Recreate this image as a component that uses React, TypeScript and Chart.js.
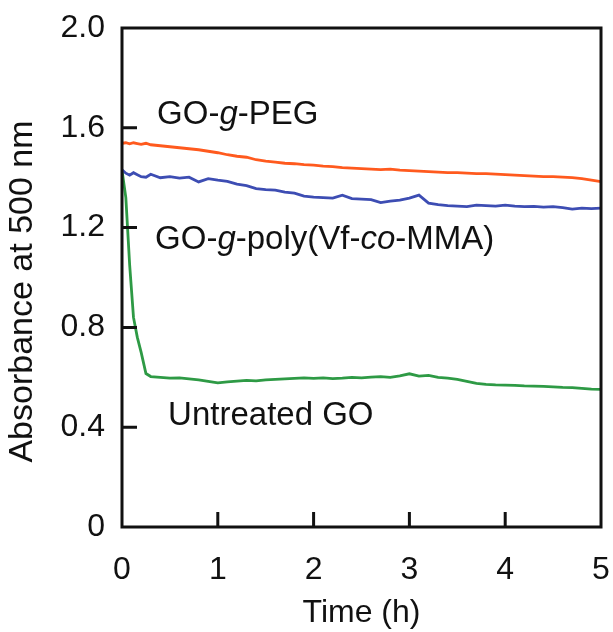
import React, { useEffect, useRef } from "react";
import { Chart, registerables } from "chart.js";

Chart.register(...registerables);

// Time (h)
const timeH = [
  0, 0.04, 0.08, 0.12, 0.16, 0.2, 0.25, 0.3, 0.4, 0.5, 0.6, 0.7, 0.8, 0.9,
  1.0, 1.1, 1.2, 1.3, 1.4, 1.5, 1.6, 1.7, 1.8, 1.9, 2.0, 2.1, 2.2, 2.3, 2.4,
  2.5, 2.6, 2.7, 2.8, 2.9, 3.0, 3.1, 3.2, 3.3, 3.4, 3.5, 3.6, 3.7, 3.8, 3.9,
  4.0, 4.1, 4.2, 4.3, 4.4, 4.5, 4.6, 4.7, 4.8, 4.9, 5.0,
];

// GO-g-PEG
const pegValues = [
  1.538, 1.54, 1.536, 1.54, 1.537, 1.534, 1.538, 1.532, 1.528, 1.524, 1.52,
  1.516, 1.512, 1.506, 1.5, 1.492, 1.486, 1.482, 1.472, 1.466, 1.462, 1.458,
  1.456, 1.452, 1.45, 1.446, 1.444, 1.44, 1.438, 1.436, 1.434, 1.432, 1.434,
  1.43, 1.428, 1.426, 1.424, 1.422, 1.42, 1.42, 1.418, 1.416, 1.416, 1.414,
  1.412, 1.41, 1.408, 1.406, 1.404, 1.404, 1.402, 1.4, 1.396, 1.39, 1.384,
];

// GO-g-poly(Vf-co-MMA)
const polyValues = [
  1.432, 1.418, 1.41, 1.42, 1.412, 1.404, 1.402, 1.414, 1.4, 1.404, 1.398,
  1.402, 1.383, 1.396, 1.39, 1.385, 1.374, 1.368, 1.356, 1.352, 1.35, 1.342,
  1.338, 1.326, 1.322, 1.32, 1.318, 1.33, 1.316, 1.314, 1.312, 1.3, 1.306,
  1.31, 1.318, 1.33, 1.298, 1.292, 1.288, 1.286, 1.284, 1.29, 1.288, 1.286,
  1.29, 1.286, 1.284, 1.285, 1.282, 1.284, 1.28, 1.274, 1.278, 1.276, 1.278,
];

// Untreated GO
const untreatedValues = [
  1.43, 1.32, 1.05, 0.84, 0.76, 0.7, 0.615, 0.603, 0.6, 0.597, 0.598, 0.594,
  0.59, 0.584, 0.578, 0.582, 0.585, 0.588, 0.586, 0.59, 0.592, 0.594, 0.596,
  0.598, 0.596, 0.598, 0.595, 0.597, 0.6, 0.598, 0.601, 0.603, 0.6, 0.606,
  0.614, 0.605, 0.608, 0.6, 0.597, 0.592, 0.584, 0.576, 0.572, 0.57, 0.569,
  0.568, 0.566, 0.565, 0.564, 0.562, 0.56, 0.559, 0.556, 0.553, 0.552,
];

const xTickValues = [0, 1, 2, 3, 4, 5];
const yTickValues = [0, 0.4, 0.8, 1.2, 1.6, 2.0];

const FONT = '"Liberation Sans", Arial, Helvetica, sans-serif';
const INK = "#111111";

type Part = { t: string; i?: boolean };

const labelPeg: Part[] = [{ t: "GO-" }, { t: "g", i: true }, { t: "-PEG" }];
const labelPoly: Part[] = [
  { t: "GO-" },
  { t: "g", i: true },
  { t: "-poly(Vf-" },
  { t: "co", i: true },
  { t: "-MMA)" },
];
const labelUntreated: Part[] = [{ t: "Untreated GO" }];

function drawRich(ctx: CanvasRenderingContext2D, parts: Part[], x: number, y: number, size: number) {
  let cx = x;
  for (const p of parts) {
    ctx.font = `${p.i ? "italic " : ""}${size}px ${FONT}`;
    ctx.fillText(p.t, cx, y);
    cx += ctx.measureText(p.t).width;
  }
}

const framePlugin = {
  id: "frame",
  afterDraw(chart: any) {
    const { ctx, chartArea: a, scales } = chart;
    const xs = scales.x;
    const ys = scales.y;
    ctx.save();
    ctx.strokeStyle = INK;
    ctx.lineWidth = 3;
    ctx.strokeRect(a.left, a.top, a.right - a.left, a.bottom - a.top);
    // inward ticks
    ctx.beginPath();
    for (const v of yTickValues.slice(1, -1)) {
      const py = ys.getPixelForValue(v);
      ctx.moveTo(a.left, py);
      ctx.lineTo(a.left + 15, py);
    }
    for (const v of xTickValues.slice(1, -1)) {
      const px = xs.getPixelForValue(v);
      ctx.moveTo(px, a.bottom);
      ctx.lineTo(px, a.bottom - 15);
    }
    ctx.stroke();

    // annotations
    ctx.fillStyle = INK;
    ctx.textBaseline = "alphabetic";
    ctx.textAlign = "left";
    drawRich(ctx, labelPeg, xs.getPixelForValue(0.366), ys.getPixelForValue(1.615), 33);
    drawRich(ctx, labelPoly, xs.getPixelForValue(0.345), ys.getPixelForValue(1.114), 33);
    drawRich(ctx, labelUntreated, xs.getPixelForValue(0.481), ys.getPixelForValue(0.409), 33);

    // y-axis title
    ctx.save();
    ctx.translate(23, (a.top + a.bottom) / 2 + 14);
    ctx.rotate(-Math.PI / 2);
    ctx.textAlign = "center";
    ctx.textBaseline = "middle";
    ctx.font = `34px ${FONT}`;
    ctx.fillText("Absorbance at 500 nm", 0, 0);
    ctx.restore();

    // x-axis title
    ctx.textAlign = "center";
    ctx.textBaseline = "alphabetic";
    ctx.font = `32px ${FONT}`;
    ctx.fillText("Time (h)", (a.left + a.right) / 2, 622);
    ctx.restore();
  },
};

export default function App() {
  const ref = useRef<HTMLCanvasElement | null>(null);
  useEffect(() => {
    if (!ref.current) return;
    const mk = (vals: number[]) => timeH.map((t, i) => ({ x: t, y: vals[i] }));
    const ds = (label: string, vals: number[], color: string) => ({
      label,
      data: mk(vals),
      borderColor: color,
      backgroundColor: color,
      borderWidth: 2.8,
      pointRadius: 0,
      tension: 0,
      fill: false,
    });
    const chart = new Chart(ref.current, {
      type: "line",
      data: {
        datasets: [
          ds("GO-g-PEG", pegValues, "#FF5A1E"),
          ds("GO-g-poly(Vf-co-MMA)", polyValues, "#3D4DB3"),
          ds("Untreated GO", untreatedValues, "#2E9A45"),
        ],
      },
      options: {
        animation: false,
        responsive: false,
        maintainAspectRatio: false,
        layout: { padding: { top: 28, right: 12, left: 0, bottom: 0 } },
        plugins: { legend: { display: false }, tooltip: { enabled: false } },
        scales: {
          x: {
            type: "linear",
            min: 0,
            max: 5,
            grid: { display: false, drawTicks: false },
            border: { display: false },
            afterBuildTicks: (s: any) => {
              s.ticks = xTickValues.map((v) => ({ value: v }));
            },
            afterFit: (s: any) => {
              s.height = 105;
              s.paddingLeft = 0;
              s.paddingRight = 0;
            },
            ticks: {
              padding: 24,
              color: INK,
              font: { family: FONT, size: 32 },
              callback: (v: any) => String(v),
              maxRotation: 0,
            },
          },
          y: {
            type: "linear",
            min: 0,
            max: 2,
            grid: { display: false, drawTicks: false },
            border: { display: false },
            afterBuildTicks: (s: any) => {
              s.ticks = yTickValues.map((v) => ({ value: v }));
            },
            afterFit: (s: any) => {
              s.width = 122;
              s.paddingTop = 0;
              s.paddingBottom = 0;
            },
            ticks: {
              padding: 17,
              color: INK,
              font: { family: FONT, size: 32 },
              callback: (v: any) => (Number(v) === 0 ? "0" : Number(v).toFixed(1)),
            },
          },
        },
      },
      plugins: [framePlugin],
    } as any);
    return () => chart.destroy();
  }, []);
  return (
    <div style={{ position: "absolute", left: 0, top: 0, width: 613, height: 632, background: "#fff" }}>
      <canvas ref={ref} width={613} height={632} style={{ width: 613, height: 632, display: "block" }} />
    </div>
  );
}
